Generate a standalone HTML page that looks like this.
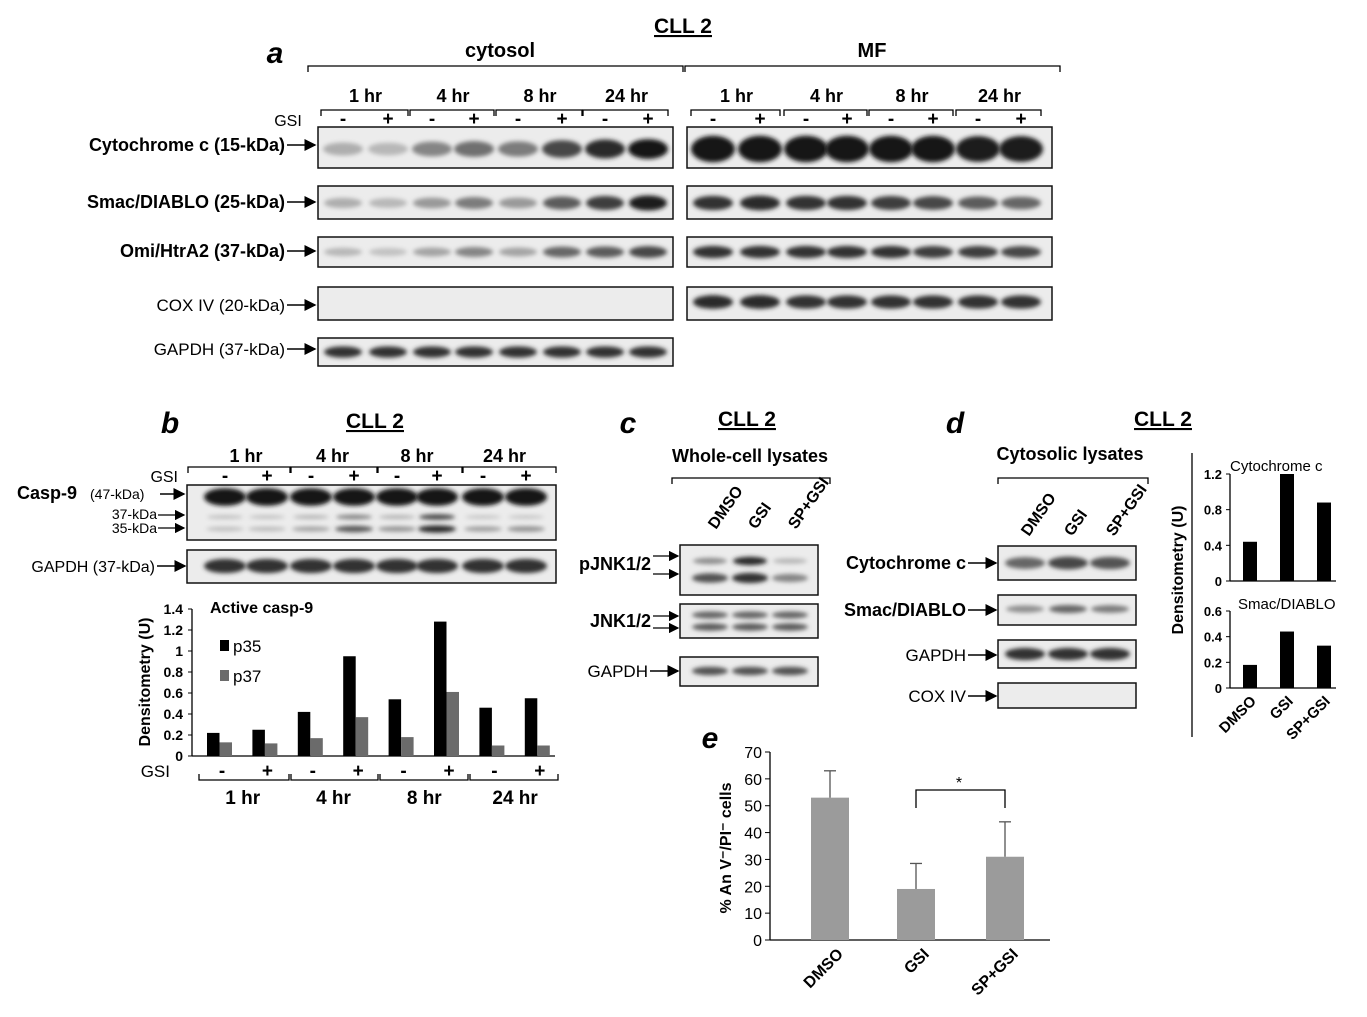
<!DOCTYPE html>
<html><head><meta charset="utf-8"><style>
body{margin:0;background:#fff}
svg{display:block;font-family:"Liberation Sans",Arial,sans-serif}
</style></head><body>
<svg id="fig" width="1367" height="1017" viewBox="0 0 1367 1017">
<defs>
<filter id="bl" x="-30%" y="-100%" width="160%" height="300%"><feGaussianBlur stdDeviation="2.2"/></filter>
<marker id="ar" markerWidth="8" markerHeight="8" refX="7" refY="4" orient="auto"><path d="M0,0 L8,4 L0,8 z" fill="#000"/></marker>
</defs>
<g id="root"></g>
</svg>
<script>
// ---------- data ----------
const cytoLanes=[343,388,432,474,518,562,605,648];
const mfLanes=[713,760,806,847,891,933,978,1021];
const timeLabels=["1 hr","4 hr","8 hr","24 hr"];
const cytoCyt=[0.25,0.2,0.45,0.55,0.5,0.75,0.9,1.0];
const cytoSmac=[0.25,0.2,0.35,0.5,0.35,0.65,0.8,0.95];
const cytoOmi=[0.2,0.15,0.3,0.45,0.3,0.6,0.65,0.75];
const mfCyt=[1,1,1,1,1,1,0.95,0.95];
const mfSmac=[0.85,0.9,0.85,0.85,0.8,0.75,0.65,0.6];
const mfOmi=[0.85,0.85,0.85,0.85,0.85,0.8,0.8,0.75];
const mfCox=[0.9,0.9,0.85,0.85,0.85,0.85,0.85,0.85];
const gapdh8=[0.85,0.85,0.85,0.85,0.85,0.85,0.85,0.85];
const casp9Groups=["-","+","-","+","-","+","-","+"];
const p35=[0.22,0.25,0.42,0.95,0.54,1.28,0.46,0.55];
const p37=[0.13,0.12,0.17,0.37,0.18,0.61,0.10,0.10];
const bTicks=[0,0.2,0.4,0.6,0.8,1,1.2,1.4];
const dCats=["DMSO","GSI","SP+GSI"];
const dCyt=[0.44,1.2,0.88];
const dSmac=[0.18,0.44,0.33];
const dTicksTop=[0,0.4,0.8,1.2];
const dTicksBot=[0,0.2,0.4,0.6];
const eCats=["DMSO","GSI","SP+GSI"];
const eVals=[53,19,31];
const eErr=[10,9.5,13];
const eTicks=[0,10,20,30,40,50,60,70];

const NS="http://www.w3.org/2000/svg";
const root=document.getElementById('root');
function mk(tag,attrs,parent,txt){const e=document.createElementNS(NS,tag);for(const k in attrs)e.setAttribute(k,attrs[k]);if(txt!==undefined)e.textContent=txt;(parent||root).appendChild(e);return e;}
function text(x,y,s,size,opts){opts=opts||{};const e=mk('text',{x:x,y:y,'font-size':size,'text-anchor':opts.anchor||'middle','font-weight':opts.bold===false?'normal':'bold','font-style':opts.italic?'italic':'normal','text-decoration':opts.u?'underline':'none',transform:opts.rot?`rotate(${opts.rot} ${x} ${y})`:''},root,s);return e;}
function blot(x,y,w,h,name){const r=mk('rect',{x:x,y:y,width:w,height:h,fill:'#ececec',stroke:'#111','stroke-width':1.5});}
function bands(lanes,vals,cy,bh,bw,name){lanes.forEach((x,i)=>{const v=vals[i];const c=Math.round(225-205*v);const e=mk('ellipse',{cx:x,cy:cy,rx:bw/2,ry:bh/2*(0.6+0.5*v),fill:`rgb(${c},${c},${c})`,filter:'url(#bl)'});});}
function arrowLbl(label,x2,y,size,bold){text(x2-30,y+6,label,size,{anchor:'end',bold:bold});mk('line',{x1:x2-28,y1:y,x2:x2,y2:y,stroke:'#000','stroke-width':1.5,'marker-end':'url(#ar)'});}
function bracket(x1,x2,y){mk('path',{d:`M${x1},${y+6} L${x1},${y} L${x2},${y} L${x2},${y+6}`,fill:'none',stroke:'#000','stroke-width':1.3});}
function bracketUp(x1,x2,y){mk('path',{d:`M${x1},${y-6} L${x1},${y} L${x2},${y} L${x2},${y-6}`,fill:'none',stroke:'#000','stroke-width':1.3});}

// ---------- panel a ----------
text(683,33,"CLL 2",21,{u:true});
text(275,63,"a",30,{italic:true});
text(500,57,"cytosol",20);text(872,57,"MF",20);
bracket(308,683,66);bracket(685,1060,66);
[cytoLanes,mfLanes].forEach(L=>{for(let g=0;g<4;g++){const x1=L[2*g]-22,x2=L[2*g+1]+20;text((L[2*g]+L[2*g+1])/2,102,timeLabels[g],18);bracket(x1,x2,110);}
 L.forEach((x,i)=>text(x,125,i%2?"+":"-",19));});
text(288,126,"GSI",16,{bold:false});
blot(318,127,355,41,'cytosol-cytochrome-blot');blot(687,127,365,41,'mf-cytochrome-blot');
bands(cytoLanes,cytoCyt,149,18,40,'cyt');bands(mfLanes,mfCyt,149,24,44,'mf-cyt');
blot(318,186,355,33,'cytosol-smac-blot');blot(687,186,365,33,'mf-smac-blot');
bands(cytoLanes,cytoSmac,203,14,38,'smac');bands(mfLanes,mfSmac,203,14,40,'mf-smac');
blot(318,237,355,30,'cytosol-omi-blot');blot(687,237,365,30,'mf-omi-blot');
bands(cytoLanes,cytoOmi,252,12,38,'omi');bands(mfLanes,mfOmi,252,12,40,'mf-omi');
blot(318,287,355,33,'cytosol-cox-blot');blot(687,287,365,33,'mf-cox-blot');
bands(mfLanes,mfCox,302,13,40,'mf-cox');
blot(318,338,355,28,'cytosol-gapdh-blot');bands(cytoLanes,gapdh8,352,11,38,'gapdh');
arrowLbl("Cytochrome c (15-kDa)",315,145,18,true);
arrowLbl("Smac/DIABLO (25-kDa)",315,202,18,true);
arrowLbl("Omi/HtrA2 (37-kDa)",315,251,18,true);
arrowLbl("COX IV (20-kDa)",315,305,17,false);
arrowLbl("GAPDH (37-kDa)",315,349,17,false);

// ---------- panel b ----------
text(170,433,"b",30,{italic:true});
text(375,428,"CLL 2",21,{u:true});
const bLanes=[225,267,311,354,397,437,483,526];
for(let g=0;g<4;g++){text((bLanes[2*g]+bLanes[2*g+1])/2,462,timeLabels[g],18);}
bracket(188,290,467);bracket(291,377,467);bracket(378,462,467);bracket(463,556,467);
bLanes.forEach((x,i)=>text(x,482,i%2?"+":"-",19));
text(178,482,"GSI",16,{bold:false,anchor:'end'});
blot(187,485,369,55,'casp9-blot');blot(187,550,369,33,'b-gapdh-blot');
bands(bLanes,[1,1,1,1,1,1,1,1],497,16,42,'casp9');
bands(bLanes,p37.map(v=>v*1.2),517,6,36,'p37');
bands(bLanes,p35.map(v=>v*0.7),529,7,38,'p35');
bands(bLanes,gapdh8,566,14,42,'b-gapdh');
text(17,499,"Casp-9",18,{anchor:'start'});text(90,499,"(47-kDa)",14,{anchor:'start',bold:false});
mk('line',{x1:160,y1:494,x2:184,y2:494,stroke:'#000','stroke-width':1.5,'marker-end':'url(#ar)'});
text(157,519,"37-kDa",14,{anchor:'end',bold:false});mk('line',{x1:158,y1:515,x2:184,y2:515,stroke:'#000','stroke-width':1.3,'marker-end':'url(#ar)'});
text(157,533,"35-kDa",14,{anchor:'end',bold:false});mk('line',{x1:158,y1:528,x2:184,y2:528,stroke:'#000','stroke-width':1.3,'marker-end':'url(#ar)'});
arrowLbl("GAPDH (37-kDa)",185,566,16,false);
const bY=v=>756-v/1.4*147;
const bX=i=>207+i*45.4;
mk('line',{x1:192,y1:609,x2:192,y2:756,stroke:'#000','stroke-width':1.3});
mk('line',{x1:192,y1:756,x2:555,y2:756,stroke:'#000','stroke-width':1.3});
bTicks.forEach(t=>{mk('line',{x1:188,y1:bY(t),x2:192,y2:bY(t),stroke:'#000'});text(183,bY(t)+5,String(t),14,{anchor:'end'});});
p35.forEach((v,i)=>{const r=mk('rect',{x:bX(i),y:bY(v),width:12.5,height:756-bY(v),fill:'#000'});});
p37.forEach((v,i)=>{const r=mk('rect',{x:bX(i)+12.5,y:bY(v),width:12.5,height:756-bY(v),fill:'#6b6b6b'});});
text(150,682,"Densitometry (U)",16,{rot:-90});
text(210,613,"Active casp-9",16,{anchor:'start'});
mk('rect',{x:220,y:640,width:9,height:11,fill:'#000'});text(233,652,"p35",17,{anchor:'start',bold:false});
mk('rect',{x:220,y:670,width:9,height:11,fill:'#6b6b6b'});text(233,682,"p37",17,{anchor:'start',bold:false});
text(170,777,"GSI",17,{anchor:'end',bold:false});
casp9Groups.forEach((s,i)=>text(bX(i)+15,777,s,19));
bracketUp(199,289,780);bracketUp(291,378,780);bracketUp(380,468,780);bracketUp(470,558,780);
for(let g=0;g<4;g++)text((bX(2*g)+bX(2*g+1))/2+13,804,timeLabels[g],19);

// ---------- panel c ----------
text(628,433,"c",30,{italic:true});
text(747,426,"CLL 2",21,{u:true});
text(750,462,"Whole-cell lysates",18);
bracket(672,830,478);
const cLanes=[710,750,790];
dCats.forEach((c,i)=>text(cLanes[i]+6,530,c,16,{anchor:'start',rot:-55}));
blot(680,545,138,50,'pjnk-blot');blot(680,604,138,34,'jnk-blot');blot(680,657,138,29,'c-gapdh-blot');
bands(cLanes,[0.4,0.9,0.2],561,8,34,'pjnk1');bands(cLanes,[0.7,0.85,0.45],578,10,36,'pjnk2');
bands(cLanes,[0.6,0.6,0.6],615,8,36,'jnk1');bands(cLanes,[0.65,0.65,0.65],627,8,36,'jnk2');
bands(cLanes,[0.7,0.7,0.7],671,9,36,'c-gapdh');
text(651,570,"pJNK1/2",18,{anchor:'end'});
mk('line',{x1:653,y1:556,x2:678,y2:556,stroke:'#000','stroke-width':1.3,'marker-end':'url(#ar)'});
mk('line',{x1:653,y1:574,x2:678,y2:574,stroke:'#000','stroke-width':1.3,'marker-end':'url(#ar)'});
text(651,627,"JNK1/2",18,{anchor:'end'});
mk('line',{x1:653,y1:616,x2:678,y2:616,stroke:'#000','stroke-width':1.3,'marker-end':'url(#ar)'});
mk('line',{x1:653,y1:628,x2:678,y2:628,stroke:'#000','stroke-width':1.3,'marker-end':'url(#ar)'});
arrowLbl("GAPDH",678,671,17,false);

// ---------- panel d ----------
text(955,433,"d",30,{italic:true});
text(1163,426,"CLL 2",21,{u:true});
text(1070,460,"Cytosolic lysates",18);
bracket(998,1148,478);
const dLanes=[1025,1068,1110];
dCats.forEach((c,i)=>text(dLanes[i]+4,537,c,16,{anchor:'start',rot:-55}));
blot(998,546,138,34,'d-cyt-blot');blot(998,595,138,30,'d-smac-blot');blot(998,640,138,28,'d-gapdh-blot');blot(998,683,138,25,'d-cox-blot');
bands(dLanes,[0.6,0.75,0.7],563,13,40,'d-cyt');bands(dLanes,[0.4,0.6,0.5],609,9,38,'d-smac');
bands(dLanes,[0.85,0.85,0.85],654,12,40,'d-gapdh');
arrowLbl("Cytochrome c",996,563,18,true);
arrowLbl("Smac/DIABLO",996,610,18,true);
arrowLbl("GAPDH",996,655,17,false);
arrowLbl("COX IV",996,696,17,false);
// small charts
mk('line',{x1:1192,y1:453,x2:1192,y2:737,stroke:'#000','stroke-width':1.3});
const dYt=v=>581-v/1.2*107, dYb=v=>688-v/0.6*77, dX=i=>1243+i*37;
mk('line',{x1:1230,y1:474,x2:1230,y2:581,stroke:'#000','stroke-width':1.3});
mk('line',{x1:1230,y1:611,x2:1230,y2:688,stroke:'#000','stroke-width':1.3});
mk('line',{x1:1230,y1:581,x2:1336,y2:581,stroke:'#000','stroke-width':1.3});
mk('line',{x1:1230,y1:688,x2:1336,y2:688,stroke:'#000','stroke-width':1.3});
dTicksTop.forEach(t=>{mk('line',{x1:1226,y1:dYt(t),x2:1230,y2:dYt(t),stroke:'#000'});text(1222,dYt(t)+5,String(t),13,{anchor:'end'});});
dTicksBot.forEach(t=>{mk('line',{x1:1226,y1:dYb(t),x2:1230,y2:dYb(t),stroke:'#000'});text(1222,dYb(t)+5,String(t),13,{anchor:'end'});});
dCyt.forEach((v,i)=>{const r=mk('rect',{x:dX(i),y:dYt(v),width:14,height:581-dYt(v),fill:'#000'});});
dSmac.forEach((v,i)=>{const r=mk('rect',{x:dX(i),y:dYb(v),width:14,height:688-dYb(v),fill:'#000'});});
text(1230,471,"Cytochrome c",15,{anchor:'start',bold:false});
text(1238,609,"Smac/DIABLO",15,{anchor:'start',bold:false});
text(1183,570,"Densitometry (U)",16,{rot:-90});
dCats.forEach((c,i)=>text(dX(i)+14,702,c,15,{anchor:'end',rot:-45}));

// ---------- panel e ----------
text(710,748,"e",30,{italic:true});
const eY=v=>940-v/70*188, eX=i=>830+i*86;
mk('line',{x1:770,y1:752,x2:770,y2:940,stroke:'#000','stroke-width':1.3});
mk('line',{x1:770,y1:940,x2:1050,y2:940,stroke:'#000','stroke-width':1.3});
eTicks.forEach(t=>{mk('line',{x1:765,y1:eY(t),x2:770,y2:eY(t),stroke:'#000'});text(762,eY(t)+6,String(t),16,{anchor:'end',bold:false});});
eVals.forEach((v,i)=>{const cx=eX(i)+(i==2?3:0);
 const r=mk('rect',{x:cx-19,y:eY(v),width:38,height:940-eY(v),fill:'#9b9b9b'});
 mk('line',{x1:cx,y1:eY(v),x2:cx,y2:eY(v+eErr[i]),stroke:'#555','stroke-width':1.3});
 mk('line',{x1:cx-6,y1:eY(v+eErr[i]),x2:cx+6,y2:eY(v+eErr[i]),stroke:'#555','stroke-width':1.3});
 text(cx+14,955,eCats[i],16,{anchor:'end',rot:-45});});
mk('path',{d:`M${eX(1)},808 L${eX(1)},790 L${eX(2)+3},790 L${eX(2)+3},808`,fill:'none',stroke:'#000','stroke-width':1.3});
text((eX(1)+eX(2))/2,788,"*",16,{bold:false});
text(731,848,"% An V⁻/PI⁻ cells",16,{rot:-90});
</script>
</body></html>
